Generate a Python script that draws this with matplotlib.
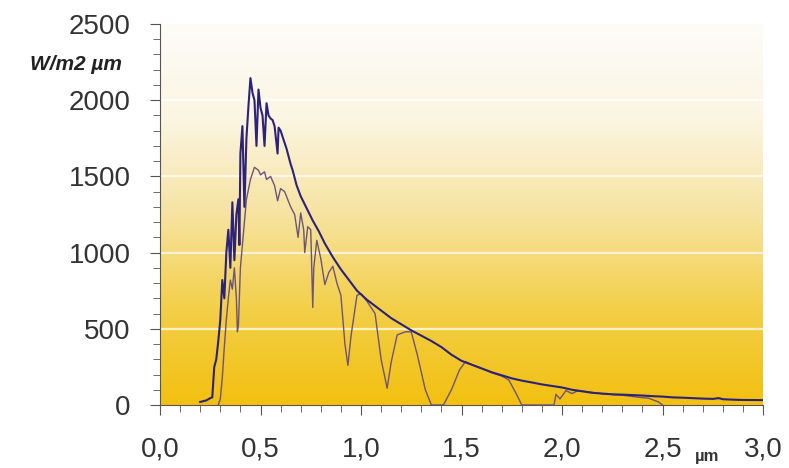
import numpy as np
import matplotlib.pyplot as plt
from matplotlib.colors import LinearSegmentedColormap

# spectrum outside the atmosphere (upper curve)
wl_top = [0.20, 0.23, 0.25, 0.26, 0.27, 0.28, 0.29, 0.30, 0.31, 0.32, 0.33, 0.34, 0.35,
          0.36, 0.37, 0.38, 0.39, 0.395, 0.40, 0.41, 0.42, 0.43, 0.44, 0.45, 0.46, 0.47,
          0.48, 0.49, 0.50, 0.51, 0.52, 0.53, 0.54, 0.55, 0.56, 0.57, 0.585, 0.59, 0.60,
          0.62, 0.63, 0.65, 0.66, 0.68, 0.70, 0.73, 0.76, 0.79, 0.82, 0.86, 0.90, 0.94,
          0.98, 1.03, 1.08, 1.11, 1.15, 1.20, 1.25, 1.30, 1.35, 1.40, 1.45, 1.50, 1.55,
          1.60, 1.65, 1.70, 1.75, 1.80, 1.85, 1.90, 1.95, 2.00, 2.05, 2.10, 2.15, 2.20,
          2.25, 2.30, 2.35, 2.40, 2.45, 2.50, 2.55, 2.60, 2.65, 2.70, 2.75, 2.78, 2.80,
          2.85, 2.90, 3.00]
irr_top = [20, 30, 45, 50, 250, 300, 420, 560, 820, 700, 1000, 1150, 900,
           1330, 950, 1250, 1350, 1050, 1650, 1830, 1300, 1750, 1960, 2145, 2050, 2000,
           1700, 2070, 1950, 1900, 1700, 1980, 1900, 1880, 1870, 1830, 1650, 1820, 1800,
           1720, 1680, 1580, 1540, 1440, 1370, 1290, 1210, 1140, 1060, 970, 890, 820,
           750, 690, 640, 610, 570, 530, 490, 455, 420, 380, 330, 290, 265,
           240, 215, 195, 175, 160, 148, 135, 125, 115, 100, 90, 80, 75,
           70, 68, 65, 62, 58, 55, 50, 48, 45, 42, 40, 45, 38,
           35, 33, 32]

# spectrum at ground level (lower curve)
wl_gnd = [0.29, 0.30, 0.31, 0.32, 0.33, 0.34, 0.35, 0.36, 0.37, 0.38, 0.385, 0.39, 0.40,
          0.42, 0.43, 0.45, 0.47, 0.49, 0.50, 0.52, 0.53, 0.55, 0.57, 0.585, 0.60, 0.62,
          0.65, 0.67, 0.687, 0.70, 0.715, 0.72, 0.735, 0.75, 0.76, 0.765, 0.78, 0.80,
          0.82, 0.84, 0.86, 0.88, 0.90, 0.92, 0.935, 0.95, 0.98, 1.00, 1.03, 1.07, 1.10,
          1.13, 1.15, 1.18, 1.22, 1.25, 1.28, 1.32, 1.35, 1.41, 1.45, 1.49, 1.52, 1.55,
          1.60, 1.65, 1.70, 1.735, 1.77, 1.80, 1.96, 1.97, 1.99, 2.02, 2.05, 2.08, 2.12,
          2.20, 2.30, 2.40, 2.43, 2.48, 2.50]
irr_gnd = [0, 40, 180, 380, 560, 700, 820, 760, 900, 700, 480, 520, 900,
           1200, 1350, 1480, 1560, 1540, 1510, 1530, 1480, 1500, 1440, 1340, 1420, 1400,
           1300, 1250, 1100, 1260, 1150, 1000, 1170, 1150, 640, 900, 1080, 960,
           790, 870, 910, 800, 720, 400, 260, 450, 720, 730, 680, 600, 300,
           110, 280, 460, 480, 480, 330, 100, 0, 0, 100, 230, 285, 265,
           240, 212, 190, 165, 80, 0, 0, 70, 40, 95, 75, 95, 88,
           74, 64, 48, 45, 20, 0]

xticks = [0.0, 0.5, 1.0, 1.5, 2.0, 2.5, 3.0]
xlabels = ['0,0', '0,5', '1,0', '1,5', '2,0', '2,5', '3,0']
yticks = [0, 500, 1000, 1500, 2000, 2500]

plt.rcParams['font.family'] = ['Liberation Sans', 'DejaVu Sans']

fig = plt.figure(figsize=(7.89, 4.68), dpi=100)
ax = fig.add_axes([160/789, 1 - 405/468, 603/789, 381/468])

# yellow to white background
cmap = LinearSegmentedColormap.from_list('sun', ['#f2c010', '#f3cf48', '#f6e3a0', '#fbf5e2', '#fdfcf8'])
grad = np.linspace(0, 1, 256).reshape(-1, 1)
ax.imshow(grad, cmap=cmap, origin='lower', aspect='auto', extent=[0, 3, 0, 2500], zorder=0)

for g in [500, 1000, 1500, 2000]:
    ax.axhline(g, color='white', lw=1.6, alpha=0.7, zorder=1)

ax.plot(wl_gnd, irr_gnd, color='#6e5478', lw=1.0, zorder=2)
ax.plot(wl_top, irr_top, color='#2c2278', lw=1.5, zorder=3)

ax.set_xlim(0, 3)
ax.set_ylim(0, 2500)
ax.set_xticks(xticks)
ax.set_xticklabels(xlabels)
ax.set_yticks(yticks)
ax.set_xticks(np.arange(0, 3.01, 0.1), minor=True)
ax.set_yticks(np.arange(0, 2501, 100), minor=True)
ax.tick_params(axis='both', which='both', colors='#555555', labelcolor='#333333', labelsize=20)
ax.tick_params(axis='y', which='major', length=7, pad=14)
ax.tick_params(axis='y', which='minor', length=5)
ax.tick_params(axis='x', which='major', length=7, pad=16)
ax.tick_params(axis='x', which='minor', length=5)
for s in ['top', 'right']:
    ax.spines[s].set_visible(False)
for s in ['left', 'bottom']:
    ax.spines[s].set_color('#555555')

fig.text(122/789, 1 - 64/468, 'W/m2 µm', ha='right', va='center', fontsize=15,
         fontweight='bold', fontstyle='italic', color='#222222')
fig.text(707/789, 1 - 457/468, 'µm', ha='center', va='center', fontsize=12,
         fontweight='bold', color='#333333')

fig.savefig('out.png', dpi=100)
